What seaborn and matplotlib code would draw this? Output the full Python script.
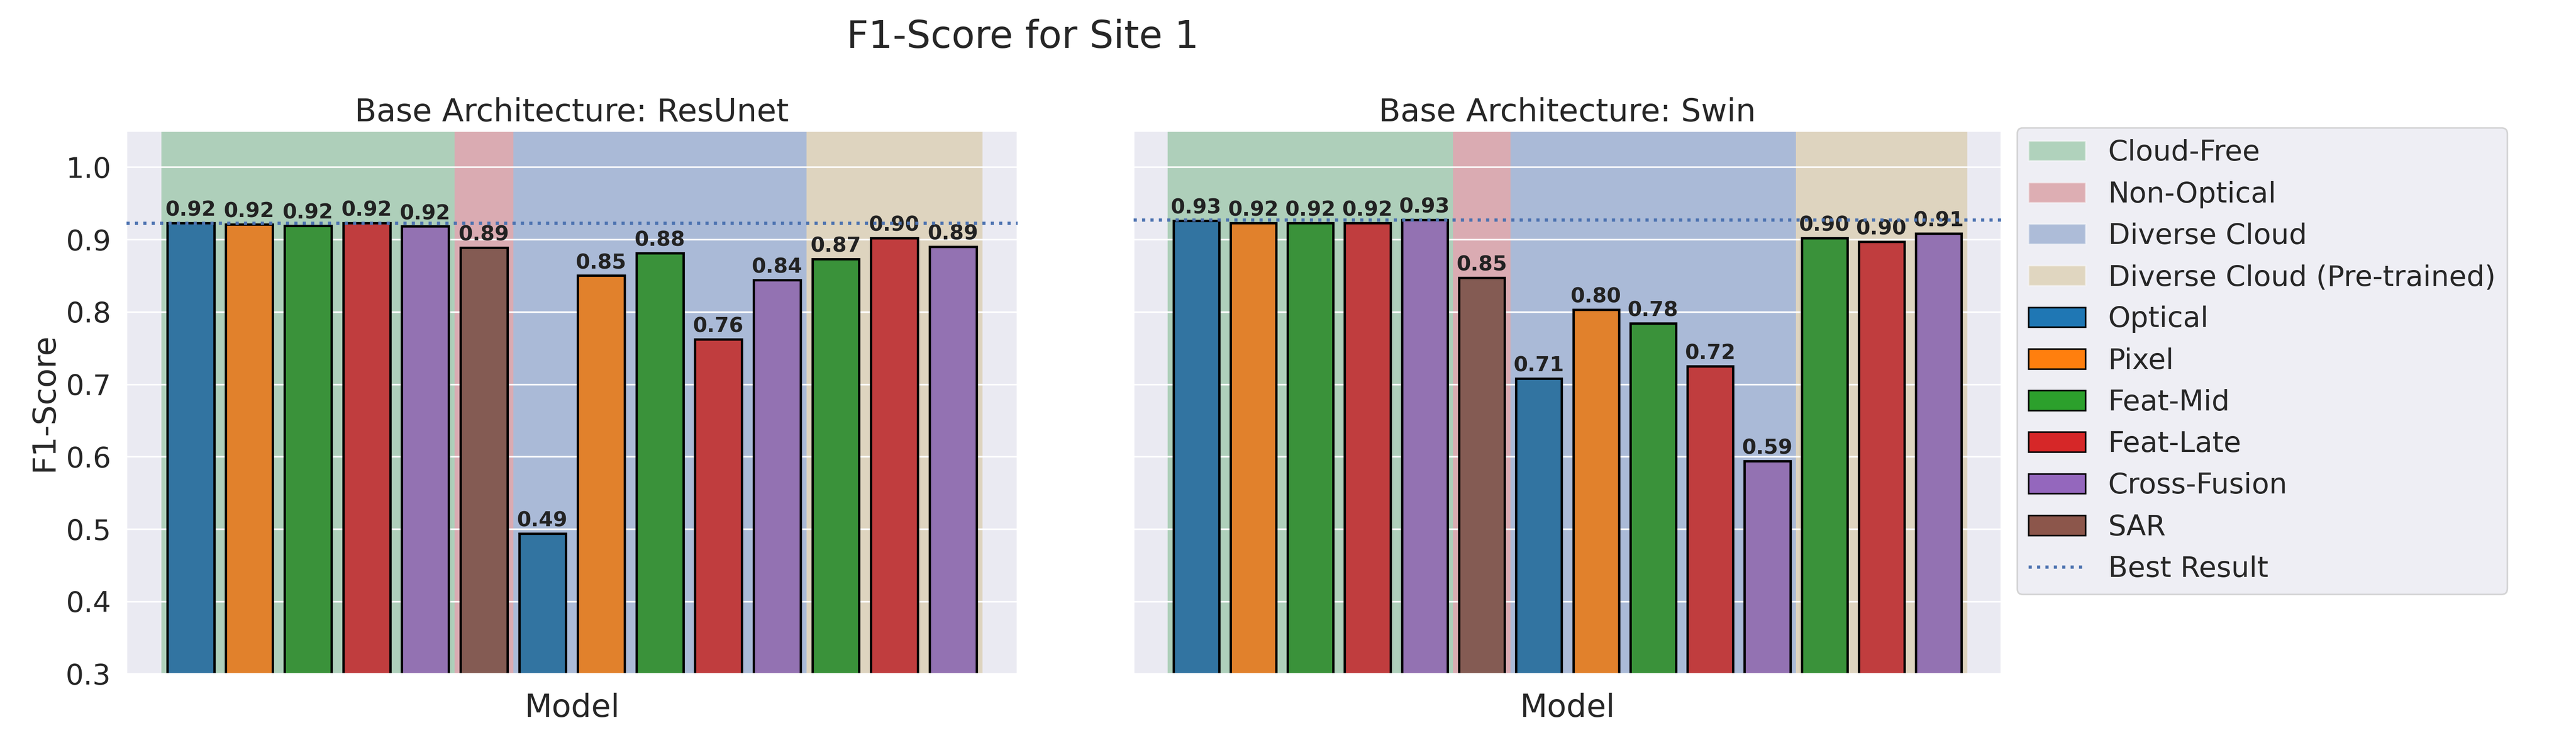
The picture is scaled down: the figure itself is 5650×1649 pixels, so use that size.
import numpy as np
import pandas as pd
import matplotlib
matplotlib.use('Agg')
import matplotlib.pyplot as plt
from matplotlib.patches import Patch
from matplotlib.lines import Line2D
import seaborn as sns

METHODS = ['Optical', 'Pixel', 'Feat-Mid', 'Feat-Late', 'Cross-Fusion',
           'SAR',
           'Optical', 'Pixel', 'Feat-Mid', 'Feat-Late', 'Cross-Fusion',
           'Feat-Mid', 'Feat-Late', 'Cross-Fusion']
RESUNET = [0.923, 0.921, 0.919, 0.923, 0.918, 0.889, 0.494, 0.850, 0.881, 0.762, 0.844, 0.873, 0.902, 0.890]
SWIN = [0.926, 0.923, 0.923, 0.923, 0.927, 0.847, 0.708, 0.803, 0.784, 0.725, 0.594, 0.902, 0.897, 0.908]
GROUPS = ['Cloud-Free', 'Non-Optical', 'Diverse Cloud', 'Diverse Cloud (Pre-trained)']
GROUP_SIZES = [5, 1, 5, 3]
METHOD_ORDER = ['Optical', 'Pixel', 'Feat-Mid', 'Feat-Late', 'Cross-Fusion', 'SAR']

sns.set_theme(style='darkgrid', font_scale=1.0)
plt.rcParams['font.family'] = ['DejaVu Sans']

pal = sns.color_palette('tab10')
mcol = dict(zip(METHOD_ORDER, pal[:6]))
gpal = sns.color_palette('deep')
gcol = [gpal[2], gpal[3], gpal[0], gpal[8] if False else (0.80, 0.70, 0.45)]

fig = plt.figure(figsize=(22.6, 6.596), dpi=250)
ax1 = fig.add_axes([0.049, 0.104, 0.346, 0.722])
ax2 = fig.add_axes([0.440, 0.104, 0.337, 0.722], sharey=ax1)

for ax, vals, title in [(ax1, RESUNET, 'Base Architecture: ResUnet'), (ax2, SWIN, 'Base Architecture: Swin')]:
    start = -0.5
    for g, n, c in zip(GROUPS, GROUP_SIZES, gcol):
        ax.axvspan(start, start + n, color=c, alpha=0.4, zorder=0, lw=0)
        start += n
    df = pd.DataFrame({'pos': np.arange(len(vals)), 'val': vals, 'method': METHODS})
    sns.barplot(data=df, x='pos', y='val', hue='method', palette=mcol, dodge=False,
                legend=False, edgecolor='black', linewidth=1.5, width=0.8, ax=ax, zorder=2)
    for i, v in enumerate(vals):
        ax.text(i, v + 0.004, f'{v:.2f}', ha='center', va='bottom', fontsize=13,
                fontweight='bold', color='#222222', zorder=3)
    ax.axhline(max(vals), color='#4c72b0', ls=':', lw=2, zorder=3)
    ax.set_xlim(-1.1, 14.1)
    ax.set_ylim(0.3, 1.05)
    ax.set_xticks([])
    ax.set_xlabel('Model', fontsize=20, labelpad=12)
    ax.set_title(title, fontsize=20)
    ax.tick_params(axis='y', labelsize=18)
ax1.set_ylabel('F1-Score', fontsize=20)
ax2.set_ylabel('')
plt.setp(ax2.get_yticklabels(), visible=False)
ax1.set_yticks(np.arange(0.3, 1.01, 0.1))

handles = [Patch(facecolor=c, alpha=0.4, label=g) for g, c in zip(GROUPS, gcol)]
handles += [Patch(facecolor=mcol[m], edgecolor='black', label=m) for m in METHOD_ORDER]
handles += [Line2D([0], [0], color='#4c72b0', ls=':', lw=2, label='Best Result')]
fig.legend(handles=handles, loc='upper left', bbox_to_anchor=(0.783, 0.83), fontsize=18,
           frameon=True, borderaxespad=0)
fig.suptitle('F1-Score for Site 1', fontsize=24, x=0.397, y=0.975)
fig.savefig('out.png', dpi=250)
